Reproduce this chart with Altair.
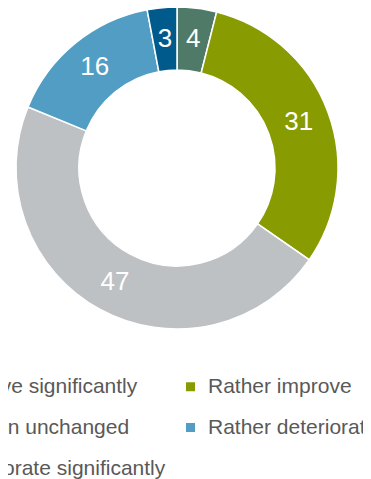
import altair as alt
import pandas as pd

categories = ["Improve significantly", "Rather improve", "Remain unchanged",
              "Rather deteriorate", "Deteriorate significantly"]
values = [4, 31, 47, 16, 3]
colors = ["#4E7A67", "#889B00", "#BDC1C4", "#519DC3", "#005A8C"]

df = pd.DataFrame({"category": categories, "value": values, "idx": list(range(len(values)))})

cx, cy = 169, 160

base = alt.Chart(df).encode(
    theta=alt.Theta("value:Q", stack=True),
    order=alt.Order("idx:Q"),
    x=alt.value(cx),
    y=alt.value(cy),
)

arcs = base.mark_arc(outerRadius=161, innerRadius=98, stroke="white", strokeWidth=1.5).encode(
    color=alt.Color(
        "category:N",
        scale=alt.Scale(domain=categories, range=colors),
        sort=categories,
        legend=alt.Legend(
            title=None, orient="none", legendX=-89, legendY=368, columns=2,
            direction="horizontal",
            symbolType="square", symbolSize=81, symbolStrokeWidth=0,
            labelFontSize=21, labelColor="#595959", labelFont="Liberation Sans",
            labelOffset=7, rowPadding=19, columnPadding=14, padding=0,
            labelLimit=400,
        ),
    )
)

labels = base.mark_text(radius=130, fontSize=26, color="white", font="Liberation Sans").encode(
    text=alt.Text("value:Q")
)

chart = (arcs + labels).properties(
    width=355, height=471,
    autosize=alt.AutoSizeParams(type="none"),
    padding=0,
).configure_view(stroke=None)

chart.save("out.html", embed_options={"renderer": "svg", "actions": False})
